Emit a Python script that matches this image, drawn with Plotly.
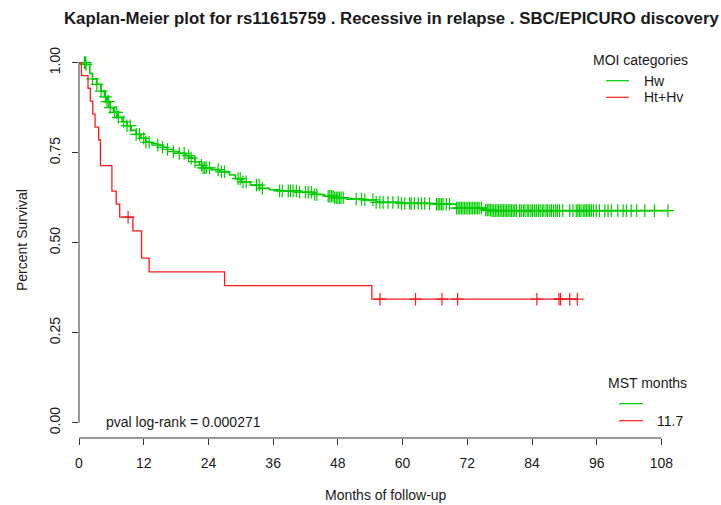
import numpy as np
import plotly.graph_objects as go

# ---------------- data ----------------
title_text = "Kaplan-Meier plot for rs11615759 . Recessive in relapse . SBC/EPICURO discovery"
x_ticks = [0, 12, 24, 36, 48, 60, 72, 84, 96, 108]
y_ticks = [0.0, 0.25, 0.5, 0.75, 1.0]
y_tick_labels = ["0.00", "0.25", "0.50", "0.75", "1.00"]

# Hw group (green): step times and survival after each step
hw_times = [0, 1.3, 2.0, 2.5, 3.3, 4.1, 4.7, 5.2, 5.8, 6.4, 7.05, 8.0, 8.9, 9.7, 10.6,
            11.5, 12.4, 13.5, 14.6, 15.5, 16.4, 17.5, 18.6, 19.8, 20.5, 21.5, 22.3,
            23.0, 24.5, 26.1, 27.9, 29.0, 30.1, 31.8, 33.5, 35.3, 37.2, 40.9, 43.4,
            45.5, 47.4, 49.6, 52.7, 55.1, 59.5, 66.3, 70.0, 74.9, 76.5]
hw_surv = [1.0, 0.995, 0.970, 0.955, 0.940, 0.921, 0.905, 0.892, 0.875, 0.862, 0.848,
           0.836, 0.825, 0.812, 0.801, 0.790, 0.779, 0.775, 0.771, 0.765, 0.759, 0.753,
           0.748, 0.742, 0.735, 0.725, 0.715, 0.708, 0.703, 0.697, 0.688, 0.678, 0.669,
           0.660, 0.651, 0.647, 0.644, 0.640, 0.634, 0.629, 0.625, 0.621, 0.619, 0.612,
           0.609, 0.607, 0.596, 0.591, 0.589]
hw_censor = [1.0, 1.1, 1.2, 1.3, 2.5, 3.3, 4.1, 4.9, 5.2, 5.5, 5.8, 6.6, 7.0, 7.3, 8.3,
             8.9, 9.5, 10.6, 11.2, 12.0, 12.4, 13.0, 14.6, 15.5, 16.4, 17.5, 18.6, 19.5,
             20.3, 20.8, 21.5, 22.7, 23.0, 23.3, 23.6, 24.2, 25.8, 26.4, 27.0, 29.5, 29.9,
             30.4, 31.0, 32.9, 33.4, 34.0, 37.2, 37.7, 38.8, 39.2, 39.7, 40.3, 40.9, 42.0,
             42.5, 43.1, 43.7, 44.1, 46.2, 46.5, 46.8, 47.1, 47.4, 47.7, 48.0, 48.3, 48.6,
             49.0, 51.4, 52.4, 53.0, 54.5, 55.1, 55.8, 56.4, 57.3, 58.2, 59.2, 59.8, 60.4,
             61.3, 61.6, 62.2, 62.9, 63.5, 64.1, 65.0, 66.3, 66.6, 66.9, 67.2, 67.5, 68.1,
             68.7, 70.0, 70.3, 70.6, 70.9, 71.2, 71.5, 71.8, 72.1, 72.4, 72.7, 73.0, 73.3,
             73.6, 73.9, 74.2, 74.6, 75.4, 75.7, 76.0, 76.3, 76.6, 76.9, 77.2, 77.5, 77.8,
             78.1, 78.4, 78.7, 79.0, 79.3, 79.6, 79.9, 80.2, 80.5, 80.8, 81.1, 81.7, 82.0,
             82.4, 82.7, 83.1, 83.4, 83.8, 84.1, 84.5, 84.8, 85.2, 85.5, 85.9, 86.2, 86.6,
             86.9, 87.3, 87.6, 88.0, 88.4, 88.7, 89.1, 89.7, 91.0, 91.6, 92.2, 92.5, 92.8,
             93.1, 93.5, 93.8, 94.1, 94.4, 94.7, 95.0, 95.4, 95.9, 96.5, 97.5, 98.1, 98.7,
             99.9, 100.9, 101.5, 102.4, 103.4, 104.9, 106.7, 109.2]

# Ht+Hv group (red)
hthv_times = [0, 0.45, 1.67, 2.1, 2.55, 2.97, 3.65, 3.97, 6.1, 6.9, 7.55, 10.0, 11.6,
              13.0, 27.0, 54.3]
hthv_surv = [1.0, 0.964, 0.929, 0.893, 0.857, 0.821, 0.786, 0.714, 0.643, 0.607, 0.571,
             0.533, 0.457, 0.419, 0.381, 0.343]
hthv_censor = [9.1, 55.8, 62.4, 67.3, 70.2, 84.9, 89.0, 89.3, 91.0, 92.4]

group_names = ["Hw", "Ht+Hv"]
mst_values = ["", "11.7"]
pval_text = "pval log-rank = 0.000271"

GREEN = "#00cc00"
RED = "#ff1a1a"
TXT = "#1a1a1a"
FONT = "Liberation Sans, Arial, sans-serif"
FS = 14

# ---------------- layout geometry ----------------
W, H = 721, 505
L, R, T, B = 79, 41, 48, 67
PW, PH = W - L - R, H - T - B
XMAX = PW / 5.393
YMIN, YMAX = -0.0425, -0.0425 + PH / 360.0


def px2x(px):
    return (px - L) / PW


def py2y(py):
    return (T + PH - py) / PH


def step_val(times, surv, t):
    i = int(np.searchsorted(np.array(times), t, side="right")) - 1
    return surv[max(i, 0)]


fig = go.Figure()

for times, surv, cens, col, lw in [
    (hw_times, hw_surv, hw_censor, GREEN, 1.6),
    (hthv_times, hthv_surv, hthv_censor, RED, 1.3),
]:
    end_t = max(cens[-1], times[-1])
    xs = list(times) + [end_t]
    ys = list(surv) + [surv[-1]]
    fig.add_trace(go.Scatter(x=xs, y=ys, mode="lines", line=dict(color=col, width=lw, shape="hv"),
                             showlegend=False, hoverinfo="skip"))
    cy = [step_val(times, surv, t) for t in cens]
    fig.add_trace(go.Scatter(x=cens, y=cy, mode="markers",
                             marker=dict(symbol="cross-thin", size=9, line=dict(color=col, width=1.2)),
                             showlegend=False, hoverinfo="skip"))

shapes = []
# R-style axis lines spanning tick range only
shapes.append(dict(type="line", xref="x", yref="paper", x0=x_ticks[0], x1=x_ticks[-1], y0=0, y1=0,
                   line=dict(color="#333333", width=1)))
shapes.append(dict(type="line", xref="paper", yref="y", x0=0, x1=0, y0=y_ticks[0], y1=y_ticks[-1],
                   line=dict(color="#333333", width=1)))
# legend lines
for (x0, x1, py, col) in [(606, 629, 80.7, GREEN), (606, 629, 97.3, RED),
                          (619, 643, 403.7, GREEN), (619, 643, 420.7, RED)]:
    shapes.append(dict(type="line", xref="paper", yref="paper", x0=px2x(x0), x1=px2x(x1),
                       y0=py2y(py), y1=py2y(py), line=dict(color=col, width=1.2)))

ann = []


def add_text(text, px, py, xanchor="center", size=FS, bold=False, angle=0):
    ann.append(dict(text=("<b>%s</b>" % text) if bold else text, x=px2x(px), y=py2y(py),
                    xref="paper", yref="paper", xanchor=xanchor, yanchor="middle",
                    showarrow=False, textangle=angle,
                    font=dict(family=FONT, size=size, color=TXT)))


add_text(title_text, 391, 18, size=16.8, bold=True)
add_text("Months of follow-up", 386, 495)
add_text("Percent Survival", 22, 240, angle=-90)
add_text("MOI categories", 640, 60)
add_text(group_names[0], 641.5, 80.7, xanchor="left")
add_text(group_names[1], 641.5, 97.3, xanchor="left")
add_text("MST months", 647.5, 383.3)
add_text(mst_values[0], 655, 403.7, xanchor="left")
add_text(mst_values[1], 655, 420.7, xanchor="left")
add_text(pval_text, 103.5, 421.7, xanchor="left")

fig.update_layout(
    width=W, height=H, margin=dict(l=L, r=R, t=T, b=B),
    paper_bgcolor="white", plot_bgcolor="white",
    shapes=shapes, annotations=ann, showlegend=False,
    font=dict(family=FONT, size=FS, color=TXT),
)
fig.update_xaxes(range=[0, XMAX], tickmode="array", tickvals=x_ticks,
                 ticktext=[str(v) for v in x_ticks], ticks="outside", ticklen=6,
                 tickcolor="#333333", showgrid=False, zeroline=False, showline=False,
                 ticklabelstandoff=6, tickfont=dict(family=FONT, size=FS, color=TXT))
fig.update_yaxes(range=[YMIN, YMAX], tickmode="array", tickvals=y_ticks,
                 ticktext=y_tick_labels, ticks="outside", ticklen=6, tickangle=-90,
                 tickcolor="#333333", showgrid=False, zeroline=False, showline=False,
                 ticklabelstandoff=6, tickfont=dict(family=FONT, size=FS, color=TXT))

fig.write_html("out.html")
